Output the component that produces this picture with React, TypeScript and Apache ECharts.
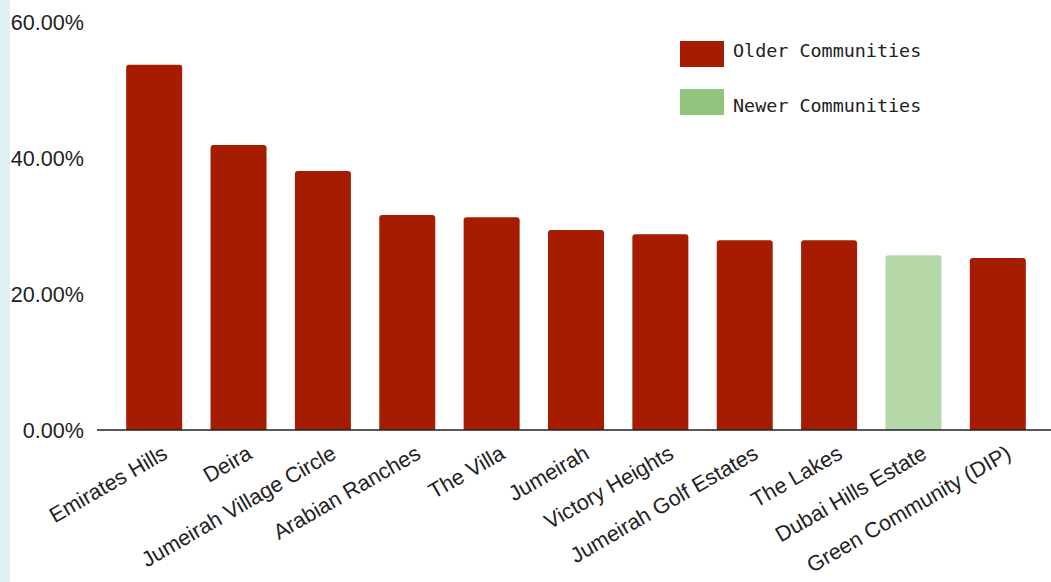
import React, { useEffect, useRef } from "react";
import * as echarts from "echarts";

const categories = [
  "Emirates Hills",
  "Deira",
  "Jumeirah Village Circle",
  "Arabian Ranches",
  "The Villa",
  "Jumeirah",
  "Victory Heights",
  "Jumeirah Golf Estates",
  "The Lakes",
  "Dubai Hills Estate",
  "Green Community (DIP)",
];
const values = [53.7, 41.9, 38.1, 31.6, 31.3, 29.4, 28.8, 27.9, 27.9, 25.7, 25.3];
const isNewer = [false, false, false, false, false, false, false, false, false, true, false];
const seriesNames = ["Older Communities", "Newer Communities"];
const yTicks = { min: 0, max: 60, interval: 20 };

export default function App() {
  const ref = useRef<HTMLDivElement>(null);
  useEffect(() => {
    document.body.style.margin = "0";
    const chart = echarts.init(ref.current!, null, { renderer: "svg" });
    const older = values.map((v, i) => (isNewer[i] ? "-" : v));
    const newer = values.map((v, i) => (isNewer[i] ? v : "-"));
    const legendText = {
      fontFamily: "DejaVu Sans Mono",
      fontSize: 18.4,
      color: "#222",
    };
    chart.setOption({
      animation: false,
      graphic: [
        { type: "rect", left: 0, top: 0, shape: { width: 10, height: 582 }, style: { fill: "#e0f1f5" }, z: -1 },
        { type: "line", shape: { x1: 97, y1: 430, x2: 1051, y2: 430 }, style: { stroke: "#222", lineWidth: 1.5 }, z: 10 },
      ],
      grid: [
        { left: 112, top: 22, width: 928, height: 408 },
        { left: 123, top: 22, width: 928, height: 408 },
      ],
      legend: [
        {
          left: 680,
          top: 41,
          padding: 0,
          itemWidth: 44,
          itemHeight: 26,
          icon: "rect",
          formatter: "{a|{name}}",
          textStyle: { ...legendText, rich: { a: { ...legendText, padding: [0, 0, 8, 4] } } },
          data: [{ name: seriesNames[0], itemStyle: { color: "#a61c00" } }],
        },
        {
          left: 680,
          top: 89,
          padding: 0,
          itemWidth: 44,
          itemHeight: 26,
          icon: "rect",
          formatter: "{a|{name}}",
          textStyle: { ...legendText, rich: { a: { ...legendText, padding: [6, 0, 0, 4] } } },
          data: [{ name: seriesNames[1], itemStyle: { color: "#93c47d" } }],
        },
      ],
      xAxis: [
        {
          type: "category",
          gridIndex: 0,
          data: categories,
          axisLine: { show: false },
          axisTick: { show: false },
          axisLabel: { show: false },
        },
        {
          type: "category",
          gridIndex: 1,
          data: categories,
          axisLine: { show: false },
          axisTick: { show: false },
          axisLabel: {
            rotate: 30,
            interval: 0,
            margin: 21,
            fontFamily: "Liberation Sans, Arial",
            fontSize: 21.6,
            color: "#222",
          },
        },
      ],
      yAxis: [
        {
          type: "value",
          gridIndex: 0,
          min: yTicks.min,
          max: yTicks.max,
          interval: yTicks.interval,
          splitLine: { show: false },
          axisLine: { show: false },
          axisTick: { show: false },
          axisLabel: {
            margin: 28,
            fontFamily: "Liberation Sans, Arial",
            fontSize: 21.6,
            color: "#222",
            formatter: (v: number) => v.toFixed(2) + "%",
          },
        },
        {
          type: "value",
          gridIndex: 1,
          min: yTicks.min,
          max: yTicks.max,
          interval: yTicks.interval,
          show: false,
        },
      ],
      series: [
        {
          name: seriesNames[0],
          type: "bar",
          xAxisIndex: 0,
          yAxisIndex: 0,
          data: older,
          barWidth: 56,
          barGap: "-100%",
          itemStyle: { color: "#a61c00", borderRadius: [3, 3, 0, 0] },
        },
        {
          name: seriesNames[1],
          type: "bar",
          xAxisIndex: 0,
          yAxisIndex: 0,
          data: newer,
          barWidth: 56,
          barGap: "-100%",
          itemStyle: { color: "#b6d7a8", borderRadius: [3, 3, 0, 0] },
        },
      ],
    });
    return () => chart.dispose();
  }, []);
  return <div ref={ref} style={{ width: 1051, height: 582 }} />;
}
